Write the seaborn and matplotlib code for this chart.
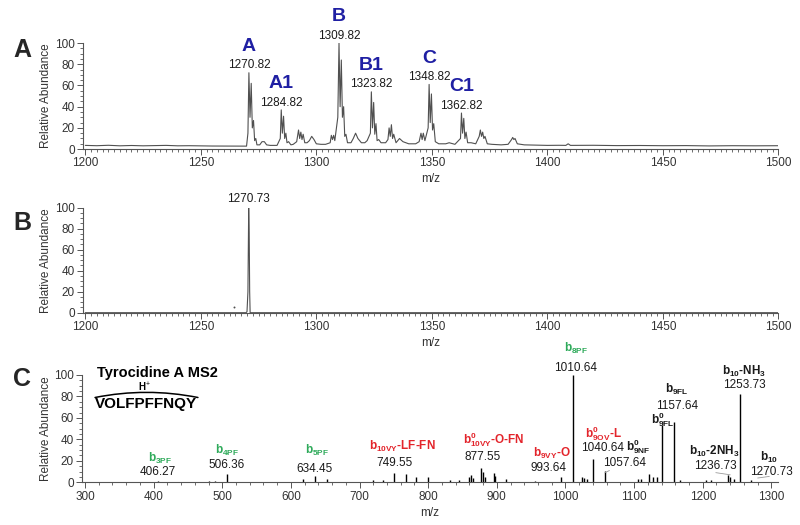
import matplotlib
matplotlib.use("Agg")
import matplotlib.pyplot as plt
import seaborn as sns
import pandas as pd
from matplotlib.ticker import MultipleLocator

# ---- panel A: full scan profile (m/z, relative abundance)
a_mz = [1200, 1205, 1210, 1215, 1220, 1225, 1230, 1235, 1240, 1245, 1250, 1255, 1260, 1265, 1269.8,
        1270.4, 1270.82, 1271.3, 1271.82, 1272.3, 1272.82, 1273.3, 1273.8, 1274.3, 1275.5, 1276.5, 1277.5, 1278.5, 1280, 1283,
        1284.4, 1284.82, 1285.3, 1285.82, 1286.3, 1286.82, 1287.3, 1288, 1289, 1290, 1291.5, 1292.3, 1292.8, 1293.3, 1293.8, 1294.3, 1295, 1296, 1297, 1298, 1299, 1300, 1302, 1304,
        1306, 1306.5, 1307, 1307.5, 1308, 1309.3, 1309.82, 1310.3, 1310.82, 1311.3, 1311.82, 1312.3, 1312.82, 1313.5, 1315, 1316, 1317, 1318, 1319.5, 1321, 1322,
        1323.4, 1323.82, 1324.3, 1324.82, 1325.3, 1325.82, 1326.3, 1327, 1328, 1330, 1331, 1331.5, 1332, 1332.5, 1333, 1333.5, 1334.5, 1336, 1337.5, 1340, 1343,
        1344.5, 1345.3, 1345.8, 1346.3, 1347, 1348.4, 1348.82, 1349.3, 1349.82, 1350.3, 1350.82, 1351.5, 1353, 1356, 1357.5, 1360,
        1362.4, 1362.82, 1363.3, 1363.82, 1364.3, 1364.82, 1365.5, 1367, 1369, 1370.5, 1371, 1371.5, 1372, 1372.5, 1373, 1374, 1376, 1380, 1383,
        1384.5, 1385, 1385.5, 1386, 1387, 1390, 1395, 1400, 1405, 1408, 1409, 1410, 1420, 1430, 1440, 1450, 1460, 1470, 1480, 1490, 1500]
a_int = [3.5, 3.2, 3.6, 3.1, 3.4, 3.1, 3.3, 3.5, 3.1, 3.2, 3.0, 2.9, 2.9, 2.8, 2.8,
         15, 72, 30, 62, 20, 27, 8, 10, 4, 4, 7, 7, 4, 3.5, 3.5,
         10, 37, 15, 31, 10, 15, 6, 7, 4, 4.5, 7, 18, 10, 16, 9, 14, 6, 6, 8, 12, 9, 5, 4.5, 4.5,
         6, 13, 9, 13, 8, 30, 100, 40, 84, 30, 40, 12, 14, 6, 6, 10, 15, 10, 6, 6, 8,
         15, 54, 20, 44, 14, 24, 8, 9, 6, 6, 9, 20, 12, 23, 10, 14, 6, 10, 7, 5, 5,
         7, 15, 9, 15, 8, 20, 61, 25, 52, 18, 24, 7, 5, 5, 6, 4.5,
         10, 34, 15, 29, 10, 16, 6, 6, 5, 12, 18, 12, 16, 10, 12, 5, 4.5, 4, 4.5,
         9, 11, 9, 10, 5, 4, 3.8, 3.5, 3.6, 3.5, 5, 3.5, 3.6, 3.3, 3.4, 3.2, 3.3, 3.0, 3.2, 3.1, 3.2]
a_peak_mz = [1270.82, 1284.82, 1309.82, 1323.82, 1348.82, 1362.82]
a_peak_int = [72, 37, 100, 54, 61, 34]
a_names = ["A", "A1", "B", "B1", "C", "C1"]

# ---- panel B: isolated precursor
b_mz = [1200, 1269.6, 1270.0, 1270.4, 1270.73, 1270.95, 1271.15, 1271.35, 1500]
b_int = [0, 0, 1, 20, 100, 75, 20, 0, 0]
b_speck_mz = [1264.5]
b_speck_int = [5]

# ---- panel C: MS2 stick spectrum
c_mz = [406.27, 480, 490, 506.36, 618, 634.45, 652, 720, 734, 749.55, 767, 782, 800, 832, 845,
        859, 862, 865, 877.55, 880, 883, 896, 898, 914, 955, 993.64, 1010.64, 1024, 1027, 1031,
        1040.64, 1057.64, 1105, 1110, 1122, 1127, 1133, 1140.64, 1157.64, 1167, 1205, 1212,
        1236.73, 1240, 1245, 1253.73, 1270.73]
c_int = [1.5, 1, 1, 8, 3.5, 5.5, 3.5, 2, 2, 9, 8, 5, 4.5, 2, 2,
         5, 7, 4, 13, 10, 5, 9, 6, 3, 1.5, 5, 100, 5, 4, 3,
         22, 10.5, 3.5, 3.5, 8, 5, 5, 53, 56, 2, 2, 2,
         7, 5, 3, 82.5, 2.5]

GREEN, RED, DARK = "#2eaa5a", "#e3242b", "#1a1a1a"
# (ion label, colour, label x, label y, mass text, mass x, mass y)
c_ions = [
    (r"$\mathbf{b_{3PF}}$", GREEN, 409, 22.5, "406.27", 406.3, 9.9),
    (r"$\mathbf{b_{4PF}}$", GREEN, 507.4, 30, "506.36", 507, 16.1),
    (r"$\mathbf{b_{5PF}}$", GREEN, 638, 29.4, "634.45", 635, 12.1),
    (r"$\mathbf{b_{10VY}}$-LF-FN", RED, 762, 33.5, "749.55", 751, 17.6),
    (r"$\mathbf{b^{0}_{10VY}}$-O-FN", RED, 895, 39.3, "877.55", 879, 23.2),
    (r"$\mathbf{b_{9VY}}$-O", RED, 980.5, 27, "993.64", 975.4, 13),
    (r"$\mathbf{b_{8PF}}$", GREEN, 1014.7, 124.5, "1010.64", 1014.7, 106.9),
    (r"$\mathbf{b^{0}_{9OV}}$-L", RED, 1055, 45.5, "1040.64", 1054, 32),
    (r"$\mathbf{b^{0}_{9NF}}$", DARK, 1106.4, 33.5, "1057.64", 1085.6, 17.7),
    (r"$\mathbf{b_{9FL}}$", DARK, 1162, 86.5, "1157.64", 1162, 71),
    (r"$\mathbf{b^{0}_{9FL}}$", DARK, 1142, 58.5, None, 0, 0),
    (r"$\mathbf{b_{10}}$-$\mathbf{NH_3}$", DARK, 1260.7, 102.8, "1253.73", 1260.7, 90.4),
    (r"$\mathbf{b_{10}}$-$\mathbf{2NH_3}$", DARK, 1217, 28.5, "1236.73", 1218.5, 15.3),
    (r"$\mathbf{b_{10}}$", DARK, 1297, 23.2, "1270.73", 1299.3, 9.9),
]

sns.set_theme(style="ticks")
plt.rcParams["font.family"] = ["Liberation Sans", "DejaVu Sans"]
plt.rcParams["mathtext.fontset"] = "custom"
plt.rcParams["mathtext.rm"] = "Liberation Sans"
plt.rcParams["mathtext.bf"] = "Liberation Sans:bold"
plt.rcParams["mathtext.it"] = "Liberation Sans:italic"

AX_COL = "#555555"
TXT_COL = "#333333"
TRACE = "#505050"


def style_axis(ax, xmajor, xminor, label_x):
    sns.despine(ax=ax)
    for s in ["left", "bottom"]:
        ax.spines[s].set_color(AX_COL)
        ax.spines[s].set_linewidth(0.8)
    ax.set_ylim(0, 100)
    ax.xaxis.set_major_locator(MultipleLocator(xmajor))
    ax.xaxis.set_minor_locator(MultipleLocator(xminor))
    ax.yaxis.set_major_locator(MultipleLocator(20))
    ax.yaxis.set_minor_locator(MultipleLocator(5))
    ax.tick_params(which="major", direction="out", length=4, width=0.7, color=AX_COL,
                   labelsize=8.5, labelcolor=TXT_COL, pad=2)
    ax.tick_params(which="minor", direction="out", length=2, width=0.6, color=AX_COL)
    ax.set_xlabel("m/z", fontsize=8.5, color=TXT_COL)
    ax.set_ylabel("Relative Abundance", fontsize=8.5, color=TXT_COL)
    ax.xaxis.set_label_coords(0.5, label_x)
    ax.yaxis.set_label_coords(-0.045, 0.5)


fig = plt.figure(figsize=(8, 5.25), dpi=100)
ax_a = fig.add_axes([0.104, 0.716, 0.869, 0.202])
ax_b = fig.add_axes([0.104, 0.4044, 0.869, 0.200])
ax_c = fig.add_axes([0.1025, 0.0813, 0.870, 0.2045])

# panel A
df_a = pd.DataFrame({"mz": a_mz, "intensity": a_int})
sns.lineplot(data=df_a, x="mz", y="intensity", ax=ax_a, color=TRACE, lw=0.8,
             estimator=None, sort=False)
ax_a.set_xlim(1199.1, 1500)
style_axis(ax_a, 50, 2.5, -0.226)
for mz, h, name in zip(a_peak_mz, a_peak_int, a_names):
    ax_a.annotate(f"{mz:.2f}", xy=(mz, h), xytext=(0, 5.3), textcoords="offset points",
                  ha="center", va="center", fontsize=8.5, color=DARK)
    ax_a.annotate(name, xy=(mz, h), xytext=(0, 19), textcoords="offset points",
                  ha="center", va="center", fontsize=14, fontweight="bold", color="#1f1fa3")

# panel B
df_b = pd.DataFrame({"mz": b_mz, "intensity": b_int})
sns.lineplot(data=df_b, x="mz", y="intensity", ax=ax_b, color=TRACE, lw=0.8,
             estimator=None, sort=False)
sns.scatterplot(x=b_speck_mz, y=b_speck_int, ax=ax_b, color=TRACE, s=2, linewidth=0)
ax_b.set_xlim(1199.1, 1500)
style_axis(ax_b, 50, 2.5, -0.235)
ax_b.annotate("1270.73", xy=(1270.73, 100), xytext=(0, 6.3), textcoords="offset points",
              ha="center", va="center", fontsize=8.5, color=DARK)

# panel C
ax_c.vlines(c_mz, 0, c_int, color="black", lw=1.0)
ax_c.set_xlim(295.6, 1309.6)
style_axis(ax_c, 100, 20, -0.228)
ax_c.yaxis.set_label_coords(-0.043, 0.5)
for lab, col, lx, ly, mtxt, mx, my in c_ions:
    ax_c.text(lx, ly, lab, color=col, fontsize=8.5, fontweight="bold",
              ha="center", va="center")
    if mtxt:
        ax_c.text(mx, my, mtxt, color=DARK, fontsize=8.5, ha="center", va="center")

ax_c.text(317, 102, "Tyrocidine A MS2", fontsize=10.5, fontweight="bold",
          ha="left", va="center", color="black")
ax_c.text(386, 88.5, r"H$^{+}$", fontsize=7, fontweight="bold", ha="center",
          va="center", color="black")
ax_c.annotate("", xy=(464.5, 79), xytext=(314.6, 79),
              arrowprops=dict(arrowstyle="-", connectionstyle="arc3,rad=-0.1",
                              lw=1.1, color="black", shrinkA=0, shrinkB=0))
ax_c.text(389.5, 73, "VOLFPFFNQY", fontsize=11, fontweight="bold",
          ha="center", va="center", color="black")

# thin leader lines from some mass labels to their peaks
for (x0, y0), (x1, y1) in [((1219, 9.0), (1240, 7)), ((1280, 4), (1297, 5.5)),
                           ((1057.64, 9), (1064, 11))]:
    ax_c.plot([x0, x1], [y0, y1], color="#9a9a9a", lw=0.6)

for txt, y in [("A", 0.905), ("B", 0.575), ("C", 0.278)]:
    fig.text(0.0275, y, txt, fontsize=18, fontweight="bold", ha="center", va="center")

fig.savefig("out.png", dpi=100)
